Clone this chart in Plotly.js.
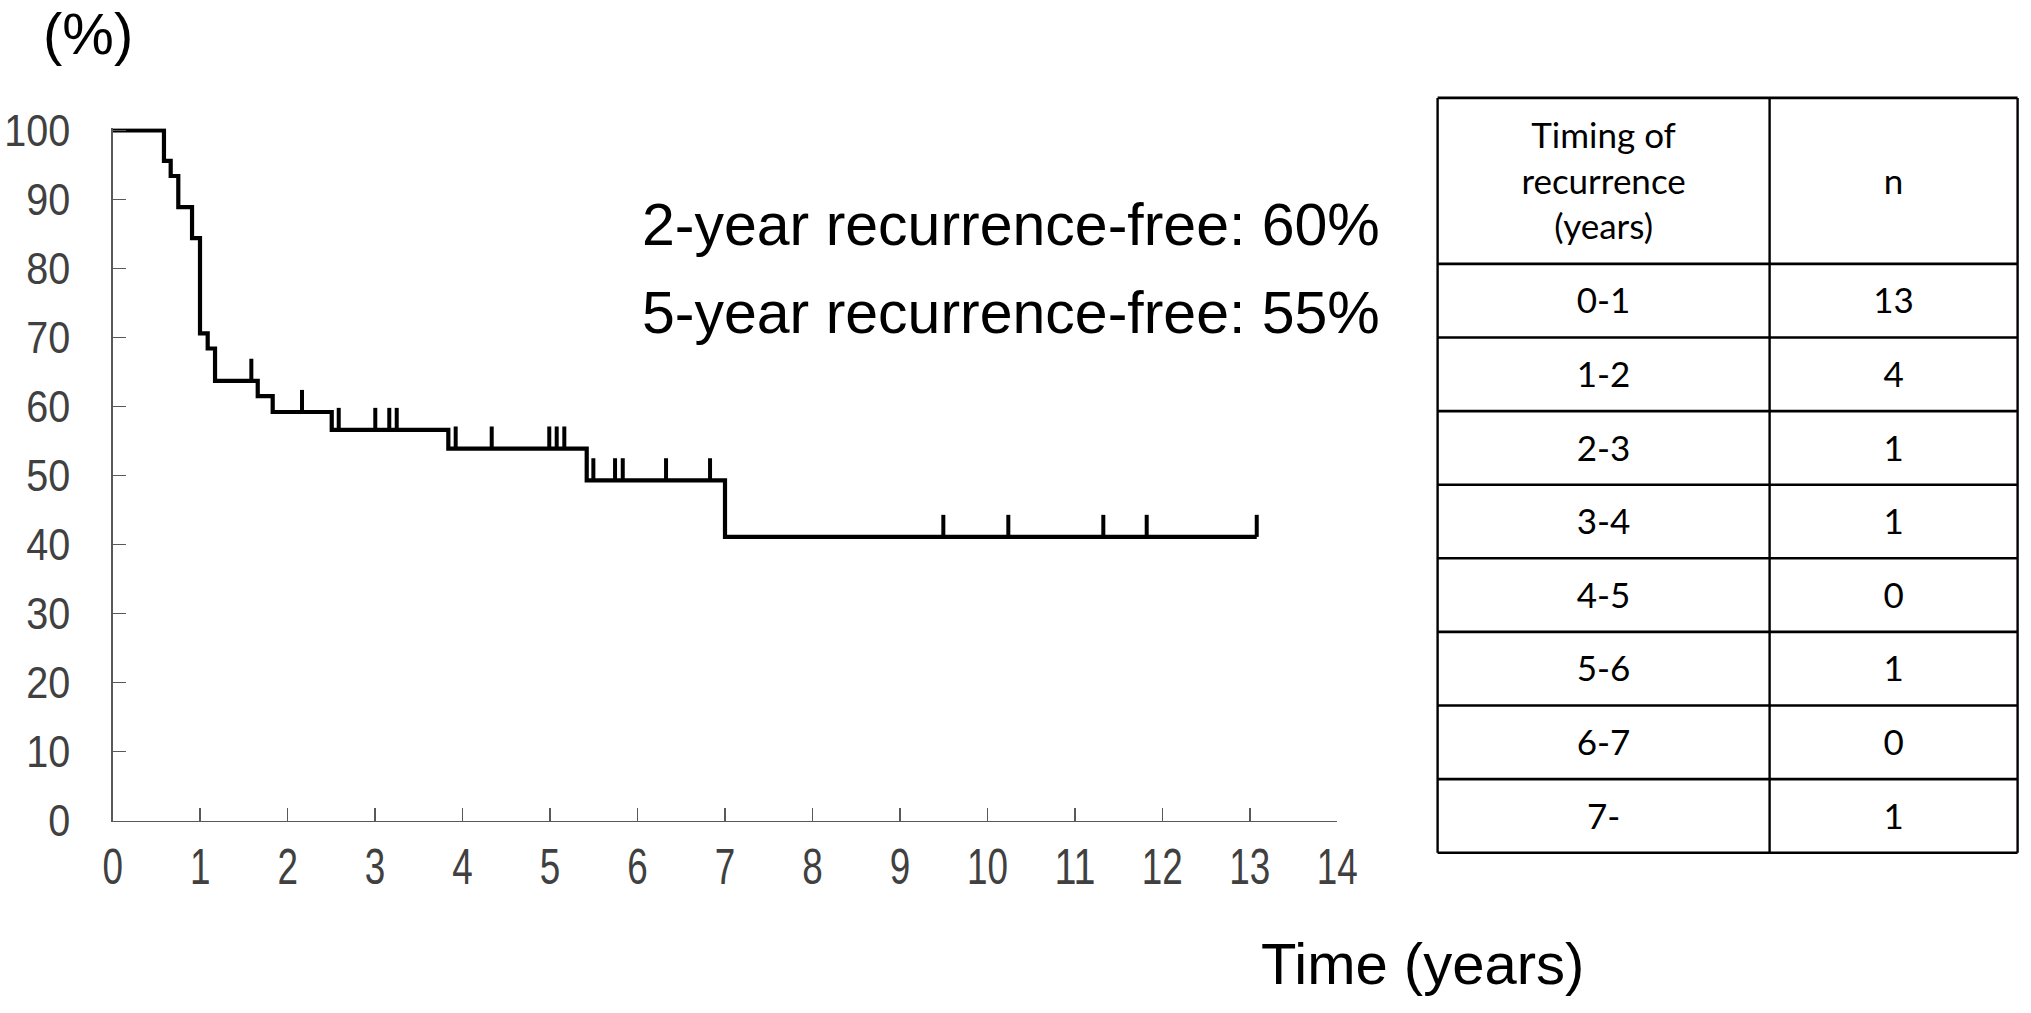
<!DOCTYPE html>
<html><head><meta charset="utf-8">
<script src="https://cdn.plot.ly/plotly-3.0.1.min.js"></script>
<style>html,body{margin:0;padding:0;background:#fff;} #chart{width:2031px;height:1013px;}</style>
</head><body><div id="chart"></div>
<script>
// ---- Kaplan-Meier curve ----
const eventTimes   = [0.586, 0.663, 0.750, 0.907, 0.998, 1.086, 1.170, 1.658, 1.829, 2.504, 3.837, 5.419, 7.000];
const survivalPct  = [95.6, 93.4, 88.9, 84.4, 70.6, 68.4, 63.7, 61.5, 59.2, 56.6, 53.9, 49.3, 41.1];
const censorTimes  = [1.585, 2.164, 2.584, 3.002, 3.162, 3.247, 3.921, 4.333, 4.991, 5.076, 5.163,
                      5.495, 5.743, 5.831, 6.326, 6.829, 9.496, 10.239, 11.325, 11.821, 13.079];
const followUpEnd  = 13.079;
const xTickVals = [0,1,2,3,4,5,6,7,8,9,10,11,12,13,14];
const yTickVals = [0,10,20,30,40,50,60,70,80,90,100];
const summaryLines = ['2-year recurrence-free: 60%', '5-year recurrence-free: 55%'];
const yUnitLabel = '(%)';
const xTitleText = 'Time (years)';

// ---- Table ----
const tableHeader  = ['Timing of<br>recurrence<br>(years)', 'n'];
const timingLabels = ['0-1','1-2','2-3','3-4','4-5','5-6','6-7','7-'];
const nCounts      = [13, 4, 1, 1, 0, 1, 0, 1];

// ---- derived from data ----
function levelAt(t){ let s = 100; for (let i=0;i<eventTimes.length;i++){ if (eventTimes[i] <= t) s = survivalPct[i]; } return s; }
const kmX = [0].concat(eventTimes, [followUpEnd]);
const kmY = [100].concat(survivalPct, [survivalPct[survivalPct.length-1]]);
const CENSOR_H = 3.2;
const cX = [], cY = [];
censorTimes.forEach(t => { const l = levelAt(t); cX.push(t, t, null); cY.push(l, l + CENSOR_H, null); });

// ---- layout constants (pixels) ----
const W = 2031, H = 1013;
const px = v => v / W, py = v => 1 - v / H;
const arial = "'Liberation Sans', Arial, sans-serif";
const tableFont = "Lato, 'Open Sans', sans-serif";
const axisGray = '#595959', labelGray = '#404040';

// table geometry (px units on table axes)
const colW = [332, 248];
const headerH = 166, rowH = 73.6;
const colEdges = [0]; colW.forEach(w => colEdges.push(colEdges[colEdges.length-1] + w));
const rowEdges = [0, headerH]; timingLabels.forEach(() => rowEdges.push(rowEdges[rowEdges.length-1] + rowH));
const tblW = colEdges[colEdges.length-1], tblH = rowEdges[rowEdges.length-1];
const tblLeft = 1437.6, tblTop = 97.9, PAD = 4, TXT_SHIFT = 4;

const shapes = [];
rowEdges.forEach(y => shapes.push({type:'line', xref:'x2', yref:'y2', x0:0, x1:tblW, y0:y, y1:y, line:{color:'#000', width:2.6}}));
colEdges.forEach(x => shapes.push({type:'line', xref:'x2', yref:'y2', x0:x, x1:x, y0:0, y1:tblH, line:{color:'#000', width:2.4}}));

const colCenters = colW.map((w,i) => colEdges[i] + w/2);
const rowCenters = timingLabels.map((_,i) => rowEdges[i+1] + rowH/2 + TXT_SHIFT);
const tFont = {family: tableFont, size:35, color:'#000'};

const traces = [
  {x: kmX, y: kmY, type:'scatter', mode:'lines', line:{shape:'hv', color:'#000', width:4.2}, hoverinfo:'skip'},
  {x: cX, y: cY, type:'scatter', mode:'lines', line:{color:'#000', width:4}, hoverinfo:'skip'},
  {x: colCenters, y: [headerH/2 + TXT_SHIFT, headerH/2 + TXT_SHIFT], text: tableHeader, xaxis:'x2', yaxis:'y2', type:'scatter', mode:'text',
   textposition:'middle center', textfont:tFont, cliponaxis:false, hoverinfo:'skip'},
  {x: rowCenters.map(() => colCenters[0]), y: rowCenters, text: timingLabels, xaxis:'x2', yaxis:'y2', type:'scatter', mode:'text',
   textposition:'middle center', textfont:tFont, cliponaxis:false, hoverinfo:'skip'},
  {x: rowCenters.map(() => colCenters[1]), y: rowCenters, text: nCounts.map(String), xaxis:'x2', yaxis:'y2', type:'scatter', mode:'text',
   textposition:'middle center', textfont:tFont, cliponaxis:false, hoverinfo:'skip'}
];

const layout = {
  width: W, height: H,
  margin: {l:0, r:0, t:0, b:0, pad:0},
  paper_bgcolor:'#fff', plot_bgcolor:'rgba(0,0,0,0)',
  showlegend:false,
  xaxis: {domain:[px(112.7), px(1337.3)], range:[0,14], tickvals:xTickVals, ticktext:xTickVals.map(String),
          ticks:'inside', ticklen:13, tickwidth:1.5, tickcolor:axisGray,
          showline:true, linecolor:axisGray, linewidth:1.5, showgrid:false, zeroline:false,
          tickfont:{family:arial, size:50, color:labelGray}, ticklabelstandoff:2, fixedrange:true},
  yaxis: {domain:[py(820.5), py(128.4)], range:[0,100.3], tickvals:yTickVals, ticktext:yTickVals.map(String),
          ticks:'inside', ticklen:13, tickwidth:1.5, tickcolor:axisGray,
          showline:true, linecolor:axisGray, linewidth:1.5, showgrid:false, zeroline:false,
          tickfont:{family:arial, size:45, color:labelGray}, ticklabelstandoff:32, fixedrange:true},
  xaxis2: {anchor:'y2', domain:[px(tblLeft-PAD), px(tblLeft+tblW+PAD)], range:[-PAD, tblW+PAD], visible:false, fixedrange:true},
  yaxis2: {anchor:'x2', domain:[py(tblTop+tblH+PAD), py(tblTop-PAD)], range:[tblH+PAD, -PAD], visible:false, fixedrange:true},
  shapes: shapes,
  annotations: [
    {text: yUnitLabel, xref:'paper', yref:'paper', x:px(87.5), y:1, xanchor:'center', yanchor:'top', showarrow:false,
     borderpad:0, font:{family:arial, size:58, color:'#000'}},
    {text: summaryLines[0], xref:'paper', yref:'paper', x:px(640), y:py(225), xanchor:'left', yanchor:'middle', showarrow:false,
     font:{family:arial, size:59, color:'#000'}},
    {text: summaryLines[1], xref:'paper', yref:'paper', x:px(640), y:py(313.5), xanchor:'left', yanchor:'middle', showarrow:false,
     font:{family:arial, size:59, color:'#000'}},
    {text: xTitleText, xref:'paper', yref:'paper', x:px(1422.5), y:py(963.5), xanchor:'center', yanchor:'middle', showarrow:false,
     font:{family:arial, size:58, color:'#000'}}
  ]
};

Plotly.newPlot('chart', traces, layout, {displayModeBar:false, staticPlot:true}).then(gd => {
  // the reference tick labels use a condensed face: compress the real text glyphs horizontally
  const condense = (sel, perChar) => gd.querySelectorAll(sel).forEach(t => {
    const n = (t.textContent || '').length;
    if (n) { t.setAttribute('textLength', n * perChar); t.setAttribute('lengthAdjust', 'spacingAndGlyphs'); }
  });
  condense('.xtick text', 20.5);
  condense('.ytick text', 22);
});
</script>
</body></html>
